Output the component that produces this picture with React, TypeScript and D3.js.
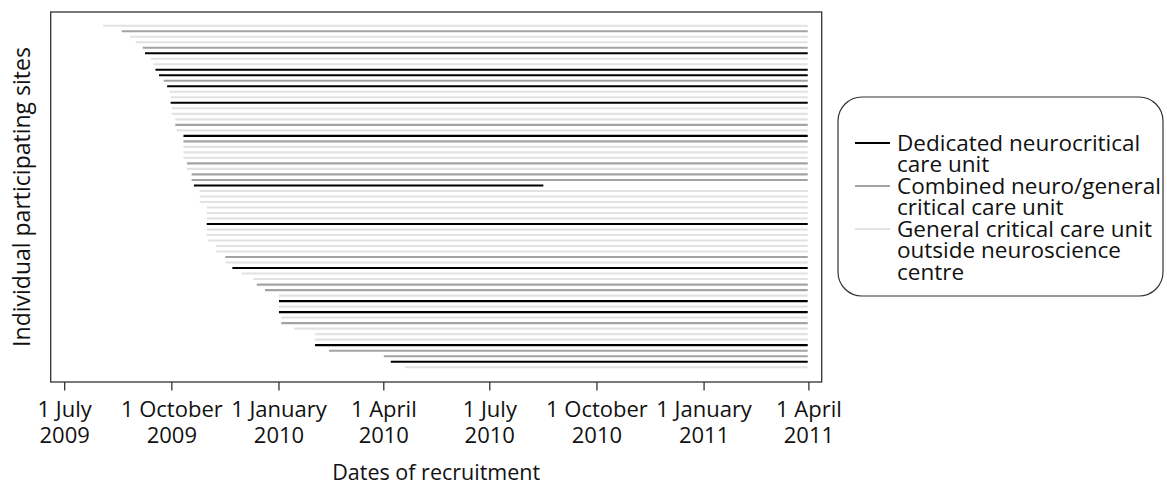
import React from 'react';
import * as d3 from 'd3';

// one entry per site, top to bottom (ordered by first recruitment)
const siteStart = [
  '2009-08-03', '2009-08-19', '2009-08-26', '2009-08-31', '2009-09-06',
  '2009-09-08', '2009-09-13', '2009-09-15', '2009-09-17', '2009-09-20',
  '2009-09-24', '2009-09-27', '2009-09-29', '2009-09-30', '2009-09-30',
  '2009-10-01', '2009-10-01', '2009-10-04', '2009-10-04', '2009-10-05',
  '2009-10-11', '2009-10-11', '2009-10-11', '2009-10-11', '2009-10-11',
  '2009-10-14', '2009-10-14', '2009-10-18', '2009-10-18', '2009-10-20',
  '2009-10-25', '2009-10-25', '2009-10-25', '2009-10-31', '2009-10-31',
  '2009-10-31', '2009-10-31', '2009-10-31', '2009-10-31', '2009-11-01',
  '2009-11-08', '2009-11-08', '2009-11-16', '2009-11-16', '2009-11-22',
  '2009-11-30', '2009-12-10', '2009-12-13', '2009-12-20', '2010-01-01',
  '2010-01-01', '2010-01-01', '2010-01-01', '2010-01-03', '2010-01-03',
  '2010-01-14', '2010-02-01', '2010-02-01', '2010-02-01', '2010-02-13',
  '2010-04-01', '2010-04-07', '2010-04-19',
];

// D = dedicated neurocritical, C = combined, G = general outside neuroscience centre
const siteType = [
  'G', 'C', 'G', 'G', 'C', 'D', 'G', 'G', 'D', 'D',
  'C', 'D', 'G', 'G', 'D', 'G', 'G', 'G', 'C', 'G',
  'D', 'C', 'G', 'G', 'G', 'C', 'G', 'C', 'C', 'D',
  'G', 'G', 'G', 'G', 'G', 'G', 'D', 'G', 'G', 'G',
  'G', 'G', 'C', 'G', 'D', 'G', 'G', 'C', 'C', 'G',
  'D', 'G', 'D', 'G', 'C', 'G', 'G', 'G', 'D', 'C',
  'C', 'D', 'G',
];

const studyEnd = '2011-03-31';
// the one site that stopped early
const earlyEndSite = 29;
const earlyEnd = '2010-08-16';

const tickDates = [
  '2009-07-01', '2009-10-01', '2010-01-01', '2010-04-01',
  '2010-07-01', '2010-10-01', '2011-01-01', '2011-04-01',
];
const tickLines = [
  ['1 July', '2009'], ['1 October', '2009'], ['1 January', '2010'], ['1 April', '2010'],
  ['1 July', '2010'], ['1 October', '2010'], ['1 January', '2011'], ['1 April', '2011'],
];

const legendKeys = ['D', 'C', 'G'];
const legendLabels = [
  ['Dedicated neurocritical', 'care unit'],
  ['Combined neuro/general', 'critical care unit'],
  ['General critical care unit', 'outside neuroscience', 'centre'],
];

const colors = { D: '#000000', C: '#a3a3a3', G: '#e2e2e2' };

const W = 1167;
const H = 486;
const box = { left: 50.7, right: 821.7, top: 12, bottom: 382 };
const font = "'Open Sans', sans-serif";
const fs = 22;

export default function App() {
  const parse = d3.timeParse('%Y-%m-%d');

  const x = d3
    .scaleTime()
    .domain([new Date(2009, 5, 19), new Date(2011, 3, 12)])
    .range([box.left, box.right]);

  const y = d3
    .scalePoint()
    .domain(d3.range(siteStart.length).map(String))
    .range([25.7, 367.2]);

  const sites = siteStart.map((s, i) => ({
    id: String(i),
    start: parse(s),
    end: parse(i === earlyEndSite ? earlyEnd : studyEnd),
    type: siteType[i],
  }));

  const ticks = tickDates.map(parse);

  // legend rows: index of the first text line of each entry
  let lineNo = 0;
  const legendRows = legendLabels.map((lines, i) => {
    const row = { key: legendKeys[i], lines, first: lineNo };
    lineNo += lines.length;
    return row;
  });
  const legTextX = 897;
  const legBase0 = 150.5;
  const legStep = 21.5;

  return (
    <svg
      width={W}
      height={H}
      style={{ position: 'absolute', left: 0, top: 0, background: '#fff' }}
      fontFamily={font}
    >
      {/* site lines */}
      {sites.map((d) => (
        <line
          key={d.id}
          x1={x(d.start)}
          x2={x(d.end)}
          y1={y(d.id)}
          y2={y(d.id)}
          stroke={colors[d.type]}
          strokeWidth={2.1}
        />
      ))}

      {/* plot frame */}
      <rect
        x={box.left}
        y={box.top}
        width={box.right - box.left}
        height={box.bottom - box.top}
        fill="none"
        stroke="#333"
        strokeWidth={1.3}
      />

      {/* x axis */}
      {ticks.map((t, i) => (
        <g key={i} transform={`translate(${x(t)},0)`}>
          <line y1={box.bottom} y2={box.bottom + 8.5} stroke="#333" strokeWidth={1.3} />
          {tickLines[i].map((s, j) => (
            <text key={j} y={416.5 + j * 26} textAnchor="middle" fontSize={fs} fill="#111">
              {s}
            </text>
          ))}
        </g>
      ))}
      <text
        x={(box.left + box.right) / 2}
        y={479.5}
        textAnchor="middle"
        fontSize={21.5}
        fill="#111"
      >
        Dates of recruitment
      </text>

      {/* y axis title */}
      <text
        transform={`translate(29.5,${(box.top + box.bottom) / 2}) rotate(-90)`}
        textAnchor="middle"
        fontSize={23}
        fill="#111"
      >
        Individual participating sites
      </text>

      {/* legend */}
      <rect x={838} y={97} width={325} height={199} rx={24} ry={24} fill="#fff" stroke="#333" strokeWidth={1.2} />
      {legendRows.map((r) => (
        <g key={r.key}>
          <line
            x1={855}
            x2={890}
            y1={legBase0 + r.first * legStep - 7.5}
            y2={legBase0 + r.first * legStep - 7.5}
            stroke={colors[r.key]}
            strokeWidth={2.1}
          />
          {r.lines.map((s, j) => (
            <text key={j} x={legTextX} y={legBase0 + (r.first + j) * legStep} fontSize={22.5} fill="#111">
              {s}
            </text>
          ))}
        </g>
      ))}
    </svg>
  );
}
